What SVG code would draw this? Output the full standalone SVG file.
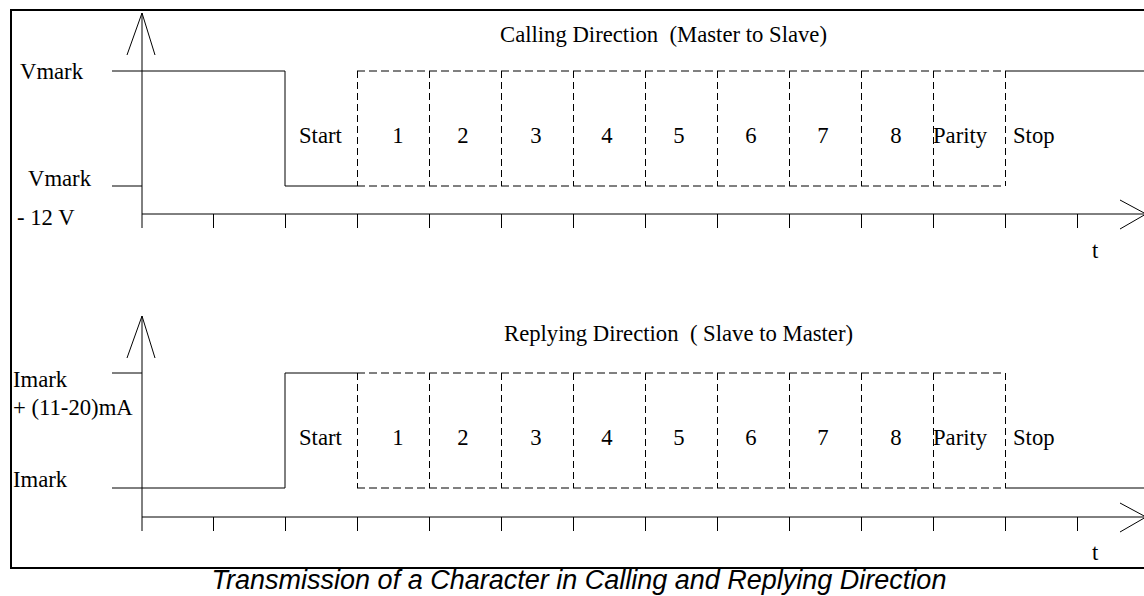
<svg xmlns="http://www.w3.org/2000/svg" width="1144" height="596" viewBox="0 0 1144 596">
<style>
.ln{stroke:#000;stroke-width:1;fill:none}
.tk{stroke:#000;stroke-width:1;fill:none}
.ds{stroke:#000;stroke-width:1;fill:none;stroke-dasharray:8 4}
.tx{font-family:"Liberation Serif","Times New Roman",serif;font-size:22.7px;fill:#000;white-space:pre}
.cap{font-family:"Liberation Sans",Arial,sans-serif;font-size:27px;font-style:italic;fill:#000}
</style>
<defs>
<g id="axes">
<path class="ln" d="M142 13V228M142 214H1146"/>
<path class="ln" d="M127 55L142 13L155 55"/>
<path class="ln" d="M1120 200L1146 214L1120 229"/>
<path class="tk" d="M213.5 214V228M285.5 214V228M357.5 214V228M429.5 214V228M501.5 214V228M573.5 214V228M645.5 214V228M717.5 214V228M789.5 214V228M861.5 214V228M933.5 214V228M1005.5 214V228M1077.5 214V228"/>
</g>
<g id="boxes">
<path class="ds" d="M357 0H1005M357 115H1005"/>
<path class="ds" style="stroke-dasharray:7 4" d="M357.5 0V115M429.5 0V115M501.5 0V115M573.5 0V115M645.5 0V115M717.5 0V115M789.5 0V115M861.5 0V115M933.5 0V115M1005.5 0V115"/>
</g>
</defs>
<rect id="frame" x="11" y="10" width="1140" height="558" fill="none" stroke="#000" stroke-width="2"/>
<g id="calling">
<use href="#axes"/>
<use href="#boxes" y="71"/>
<path class="ln" d="M112 71H285V186H357M112 186H142M1005 71H1146"/>
<text class="tx" x="500" y="42" xml:space="preserve">Calling Direction  (Master to Slave)</text>
<text class="tx" x="20" y="79">Vmark</text>
<text class="tx" x="28" y="186">Vmark</text>
<text class="tx" x="17" y="225">- 12 V</text>
<text class="tx" x="299" y="143">Start</text>
<g class="tx" text-anchor="middle">
<text x="398" y="143">1</text><text x="463" y="143">2</text><text x="536" y="143">3</text><text x="607" y="143">4</text><text x="679" y="143">5</text><text x="751" y="143">6</text><text x="823" y="143">7</text><text x="896" y="143">8</text>
</g>
<text class="tx" x="933" y="143">Parity</text>
<text class="tx" x="1013" y="143">Stop</text>
<text class="tx" x="1092" y="258">t</text>
</g>
<g id="replying">
<use href="#axes" y="303"/>
<use href="#boxes" y="373"/>
<path class="ln" d="M112 488H285V373H357M112 373H142M1005 488H1146"/>
<text class="tx" x="504" y="341" xml:space="preserve">Replying Direction  ( Slave to Master)</text>
<text class="tx" x="13" y="387">Imark</text>
<text class="tx" x="13" y="415">+ (11-20)mA</text>
<text class="tx" x="13" y="487">Imark</text>
<text class="tx" x="299" y="445">Start</text>
<g class="tx" text-anchor="middle">
<text x="398" y="445">1</text><text x="463" y="445">2</text><text x="536" y="445">3</text><text x="607" y="445">4</text><text x="679" y="445">5</text><text x="751" y="445">6</text><text x="823" y="445">7</text><text x="896" y="445">8</text>
</g>
<text class="tx" x="933" y="445">Parity</text>
<text class="tx" x="1013" y="445">Stop</text>
<text class="tx" x="1092" y="560">t</text>
</g>
<text id="caption" class="cap" x="579" y="589" text-anchor="middle">Transmission of a Character in Calling and Replying Direction</text>
</svg>
